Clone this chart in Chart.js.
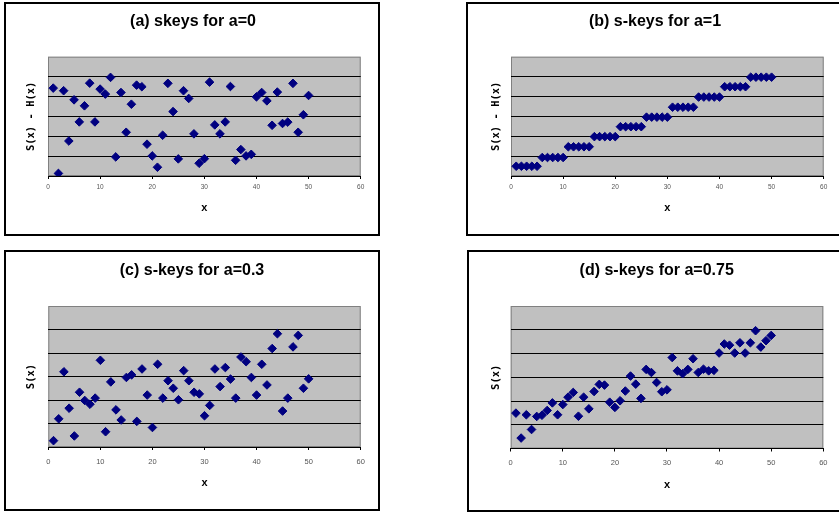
<!DOCTYPE html>
<html>
<head>
<meta charset="utf-8">
<script src="https://cdn.jsdelivr.net/npm/chart.js@4.4.1/dist/chart.umd.min.js"></script>
<style>
  html, body { margin: 0; padding: 0; background: #fff; overflow: hidden; }
  body { width: 839px; height: 513px; position: relative; }
  .panel { position: absolute; box-sizing: border-box; border: 2px solid #000; background: #fff; }
  .panel canvas { position: absolute; left: -2px; top: -2px; }
</style>
</head>
<body>
<div class="panel" id="pa"><canvas id="ca"></canvas></div>
<div class="panel" id="pb"><canvas id="cb"></canvas></div>
<div class="panel" id="pc"><canvas id="cc"></canvas></div>
<div class="panel" id="pd"><canvas id="cd"></canvas></div>
<script>
// x = 1..50 for every panel
const X_VALUES = [1, 2, 3, 4, 5, 6, 7, 8, 9, 10, 11, 12, 13, 14, 15, 16, 17, 18, 19, 20,
  21, 22, 23, 24, 25, 26, 27, 28, 29, 30, 31, 32, 33, 34, 35, 36, 37, 38, 39, 40,
  41, 42, 43, 44, 45, 46, 47, 48, 49, 50];
const X_TICKS = [0, 10, 20, 30, 40, 50, 60];

// (a) skeys for a=0
const A_Y = [4.42, 0.13, 4.29, 1.76, 3.83, 2.72, 3.53, 4.67, 2.72, 4.37,
  4.12, 4.96, 0.96, 4.20, 2.20, 3.61, 4.57, 4.49, 1.60, 1.01,
  0.44, 2.05, 4.66, 3.24, 0.86, 4.29, 3.90, 2.12, 0.64, 0.87,
  4.72, 2.57, 2.12, 2.72, 4.50, 0.79, 1.33, 1.01, 1.09, 3.98,
  4.20, 3.78, 2.55, 4.22, 2.64, 2.71, 4.66, 2.20, 3.08, 4.05];
// (b) s-keys for a=1
const B_Y = [0.49, 0.49, 0.49, 0.49, 0.49, 0.93, 0.93, 0.93, 0.93, 0.93,
  1.47, 1.47, 1.47, 1.47, 1.47, 1.98, 1.98, 1.98, 1.98, 1.98,
  2.48, 2.48, 2.48, 2.48, 2.48, 2.96, 2.96, 2.96, 2.96, 2.96,
  3.46, 3.46, 3.46, 3.46, 3.46, 3.97, 3.97, 3.97, 3.97, 3.97,
  4.49, 4.49, 4.49, 4.49, 4.49, 4.97, 4.97, 4.97, 4.97, 4.97];
// (c) s-keys for a=0.3
const C_Y = [0.27, 1.20, 3.20, 1.65, 0.47, 2.33, 1.98, 1.82, 2.08, 3.69,
  0.65, 2.77, 1.58, 1.15, 2.96, 3.07, 1.09, 3.32, 2.21, 0.83,
  3.52, 2.08, 2.82, 2.50, 2.01, 3.25, 2.82, 2.33, 2.26, 1.33,
  1.77, 3.32, 2.57, 3.38, 2.89, 2.08, 3.83, 3.63, 2.96, 2.21,
  3.52, 2.64, 4.19, 4.82, 1.53, 2.08, 4.26, 4.75, 2.50, 2.90];
// (d) s-keys for a=0.75
const D_Y = [1.49, 0.44, 1.42, 0.80, 1.35, 1.40, 1.60, 1.92, 1.42, 1.85,
  2.16, 2.36, 1.36, 2.16, 1.67, 2.40, 2.70, 2.67, 1.95, 1.73,
  2.01, 2.42, 3.05, 2.71, 2.11, 3.33, 3.20, 2.78, 2.39, 2.47,
  3.83, 3.27, 3.15, 3.33, 3.78, 3.20, 3.34, 3.27, 3.29, 4.02,
  4.40, 4.35, 4.02, 4.45, 4.02, 4.45, 4.96, 4.27, 4.54, 4.76];

const TITLES = ['(a) skeys for a=0', '(b) s-keys for a=1', '(c) s-keys for a=0.3', '(d) s-keys for a=0.75'];
const Y_TITLES = ['S(x) - H(x)', 'S(x) - H(x)', 'S(x)', 'S(x)'];

// Excel-like plot area: grey fill and grey frame
const plotBg = {
  id: 'plotBg',
  beforeDraw(chart) {
    const { ctx, chartArea: a } = chart;
    ctx.save();
    ctx.fillStyle = '#c0c0c0';
    ctx.fillRect(a.left, a.top, a.right - a.left, a.bottom - a.top);
    ctx.strokeStyle = '#808080';
    ctx.lineWidth = 1;
    ctx.strokeRect(a.left + 0.5, a.top + 0.5, a.right - a.left - 1, a.bottom - a.top - 1);
    ctx.restore();
  }
};

function panel(key, canvasId, title, yTitle, ys, g) {
  const box = document.getElementById(key);
  box.style.left = g.left + 'px'; box.style.top = g.top + 'px';
  box.style.width = g.w + 'px'; box.style.height = g.h + 'px';
  const cv = document.getElementById(canvasId);
  cv.width = g.w; cv.height = g.h;
  // page coords -> canvas coords
  const aL = g.aL - g.left, aR = g.aR - g.left, aT = g.aT - g.top, aB = g.aB - g.top;
  const tY = g.titleY - g.top, tX = g.titleX - g.left;
  const yTX = g.yTitleX - g.left, xTY = g.xTitleY - g.top, tickY = g.tickY - g.top;
  const pl = Math.max(0, 2 * tX - aR);
  const pr = g.w - aR;
  const tFs = 16, tLh = tFs * 1.2;
  const yFs = 10.5, yLh = yFs * 1.2;
  const xFs = 11, xLh = xFs * 1.2;
  const xBottom = xTY + xLh / 2;
  new Chart(cv, {
    type: 'scatter',
    data: {
      datasets: [{
        data: X_VALUES.map((x, i) => ({ x, y: ys[i] })),
        pointStyle: 'rectRot', pointRadius: 4.3, pointHoverRadius: 4.3,
        backgroundColor: '#000080', borderColor: '#000080', borderWidth: 1
      }]
    },
    options: {
      responsive: false, animation: false, devicePixelRatio: 1,
      layout: { padding: { left: pl, right: pr, top: 0, bottom: g.h - xBottom } },
      plugins: {
        legend: { display: false }, tooltip: { enabled: false },
        title: { display: true, text: title, color: '#000',
          font: { family: "'Liberation Sans', Arial", size: tFs, weight: 'bold', lineHeight: 1.2 },
          padding: { top: tY - tLh / 2, bottom: aT - tY - tLh / 2 } }
      },
      scales: {
        x: {
          type: 'linear', min: 0, max: 60,
          afterBuildTicks: s => { s.ticks = X_TICKS.map(v => ({ value: v })); },
          afterFit: s => { s.height = xBottom - aB; },
          grid: { drawOnChartArea: false, drawTicks: true, tickLength: 3, color: '#000' },
          border: { color: '#000', width: 1 },
          ticks: { color: '#555', padding: tickY - aB - 3 - g.tickFs * 0.6,
            font: { family: "'Liberation Sans', Arial", size: g.tickFs }, maxRotation: 0 },
          title: { display: true, text: 'x', color: '#000', padding: { top: 0, bottom: 0 },
            font: { family: "'Liberation Sans', Arial", size: xFs, weight: 'bold', lineHeight: 1.2 } }
        },
        y: {
          min: 0, max: 6,
          ticks: { display: false, stepSize: 1 },
          afterFit: s => { s.width = aL - pl; },
          grid: { drawTicks: false, color: c => (c.tick.value > 0 && c.tick.value < 6) ? '#000' : 'rgba(0,0,0,0)', lineWidth: 1 },
          border: { display: false },
          title: { display: true, text: yTitle, color: '#000', padding: { top: yTX - pl - yLh / 2, bottom: 0 },
            font: { family: "'DejaVu Sans Mono', monospace", size: yFs, weight: 'bold', lineHeight: 1.2 } }
        }
      }
    },
    plugins: [plotBg]
  });
}

panel('pa', 'ca', TITLES[0], Y_TITLES[0], A_Y,
  { left: 4, top: 2, w: 376, h: 234, aL: 48, aT: 56.7, aR: 360.7, aB: 176,
    titleX: 193, titleY: 22, yTitleX: 31.7, xTitleY: 208.3, tickY: 187.7, tickFs: 6.5 });
panel('pb', 'cb', TITLES[1], Y_TITLES[1], B_Y,
  { left: 466, top: 2, w: 380, h: 234, aL: 511, aT: 56.7, aR: 823.7, aB: 176,
    titleX: 655, titleY: 22, yTitleX: 496, xTitleY: 208.3, tickY: 187.2, tickFs: 6.5 });
panel('pc', 'cc', TITLES[2], Y_TITLES[2], C_Y,
  { left: 4, top: 250, w: 376, h: 261, aL: 48.3, aT: 306, aR: 360.7, aB: 447,
    titleX: 192, titleY: 271, yTitleX: 31.7, xTitleY: 483.3, tickY: 461.7, tickFs: 7.5 });
panel('pd', 'cd', TITLES[3], Y_TITLES[3], D_Y,
  { left: 467, top: 250, w: 380, h: 262, aL: 510.7, aT: 306, aR: 823.3, aB: 448.5,
    titleX: 656.7, titleY: 271, yTitleX: 496, xTitleY: 485, tickY: 463.3, tickFs: 7.5 });
</script>
</body>
</html>
